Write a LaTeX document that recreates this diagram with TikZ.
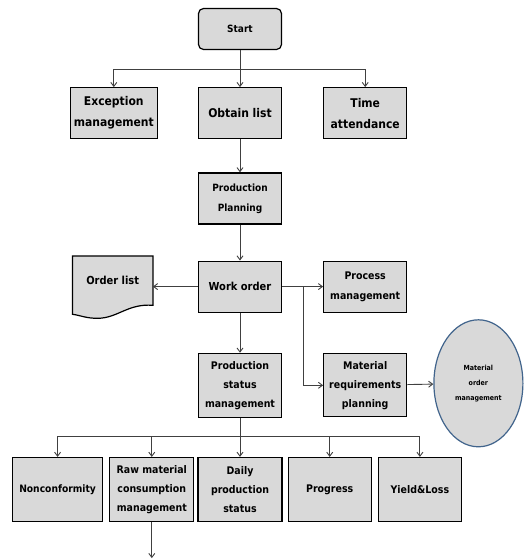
\documentclass[tikz,border=0pt]{standalone}
\usepackage{fontspec}
\setmainfont{DejaVu Sans Condensed}
\usepackage{tikz}
\usetikzlibrary{arrows.meta}
\usetikzlibrary{positioning}
\usetikzlibrary{backgrounds}
\usetikzlibrary{shapes.geometric}
\definecolor{boxgray}{RGB}{217,217,217}
\definecolor{linegray}{RGB}{64,64,64}
\definecolor{ovalblue}{RGB}{65,100,140}

\begin{document}
\begin{tikzpicture}[
    box/.style={rectangle, draw=black, line width=1.2pt, fill=boxgray, align=center, font=\bfseries, inner sep=1pt, minimum width=83pt, minimum height=51pt},
    low/.style={box, minimum height=64pt},
    arr/.style={draw=linegray, line width=0.9pt, -{Straight Barb[length=4pt,width=6pt]}},
    node distance=40pt]
    \useasboundingbox (0,0) rectangle (526pt,-560pt);

    \node[box, rounded corners=5pt, minimum height=41pt, font=\bfseries\fontsize{10}{12}\selectfont] (start) at (240pt,-29pt) {Start};
    \node[box, below=37pt of start, font=\bfseries\fontsize{12}{21}\selectfont] (obtain) {Obtain list};
    \node[box, left=40pt of obtain, minimum width=87pt, font=\bfseries\fontsize{12}{21}\selectfont] (exception) {Exception\\management};
    \node[box, right=41pt of obtain, font=\bfseries\fontsize{12}{21}\selectfont] (time) {Time\\attendance};
    \node[box, below=33pt of obtain, font=\bfseries\fontsize{10}{20}\selectfont] (planning) {Production\\Planning};
    \node[box, below=36pt of planning, font=\bfseries\fontsize{11}{13}\selectfont] (work) {Work order};
    \node[rectangle, align=center, font=\bfseries\fontsize{11}{13}\selectfont, minimum width=80pt, minimum height=49pt, inner sep=0pt, left=45pt of work, yshift=6pt] (orderlist) {Order list};
    \node[box, right=41pt of work, font=\bfseries\fontsize{10.5}{20}\selectfont] (process) {Process\\management};
    \node[low, below=40pt of work, font=\bfseries\fontsize{10.5}{19}\selectfont] (status) {Production\\status\\management};
    \node[low, right=41pt of status, minimum height=63pt, font=\bfseries\fontsize{10.5}{19}\selectfont] (mrp) {Material\\requirements\\planning};
    \node[ellipse, draw=ovalblue, line width=1.2pt, fill=boxgray, align=center, inner sep=0pt, minimum width=89pt, minimum height=127pt, right=26pt of mrp, yshift=2pt, font=\bfseries\fontsize{7}{15}\selectfont] (matorder) {Material\\order\\management};

    \node[low, below=39pt of status, minimum width=84pt, font=\bfseries\fontsize{10.5}{19}\selectfont] (daily) {Daily\\production\\status};
    \node[low, left=3pt of daily, minimum width=84pt, font=\bfseries\fontsize{10.5}{19}\selectfont] (raw) {Raw material\\consumption\\management};
    \node[low, left=6pt of raw, minimum width=90pt, font=\bfseries\fontsize{10.2}{19}\selectfont] (noncon) {Nonconformity};
    \node[low, right=5pt of daily, font=\bfseries\fontsize{10.5}{19}\selectfont] (progress) {Progress};
    \node[low, right=6pt of progress, font=\bfseries\fontsize{10.5}{19}\selectfont] (yield) {Yield\&Loss};

    \begin{scope}[on background layer]
        \filldraw[draw=black, line width=1.2pt, fill=boxgray]
            ([yshift=-9pt]orderlist.south west) -- (orderlist.north west) -- (orderlist.north east) -- (orderlist.south east)
            .. controls +(-25pt,2pt) and +(20pt,0pt) .. ([shift={(25pt,-13pt)}]orderlist.south west)
            .. controls +(-12pt,0pt) and +(8pt,-1pt) .. ([yshift=-9pt]orderlist.south west) -- cycle;
    \end{scope}

    \coordinate (split1) at ([yshift=-19pt]start.south);
    \draw[arr] (start.south) -- (obtain.north);
    \draw[arr] (start.south) -- (split1) -| (exception.north);
    \draw[arr] (start.south) -- (split1) -| (time.north);
    \draw[arr] (obtain) -- (planning);
    \draw[arr] (planning) -- (work);
    \draw[arr] (work.west) -- (work.west -| orderlist.east);
    \draw[arr] (work.east) -- (process.west);
    \coordinate (split2) at ([xshift=21pt]work.east);
    \draw[arr] (split2) |- (mrp.west);
    \draw[arr] (work) -- (status);
    \draw[arr] (mrp) -- (matorder);

    \coordinate (split3) at ([yshift=-19pt]status.south);
    \draw[arr] (status.south) -- (daily.north);
    \draw[arr] (status.south) -- (split3) -| (noncon.north);
    \draw[arr] (status.south) -- (split3) -| (raw.north);
    \draw[arr] (status.south) -- (split3) -| (progress.north);
    \draw[arr] (status.south) -- (split3) -| (yield.north);
    \coordinate (out) at ([yshift=-36pt]raw.south);
    \draw[arr] (raw.south) -- (out);
\end{tikzpicture}
\end{document}
